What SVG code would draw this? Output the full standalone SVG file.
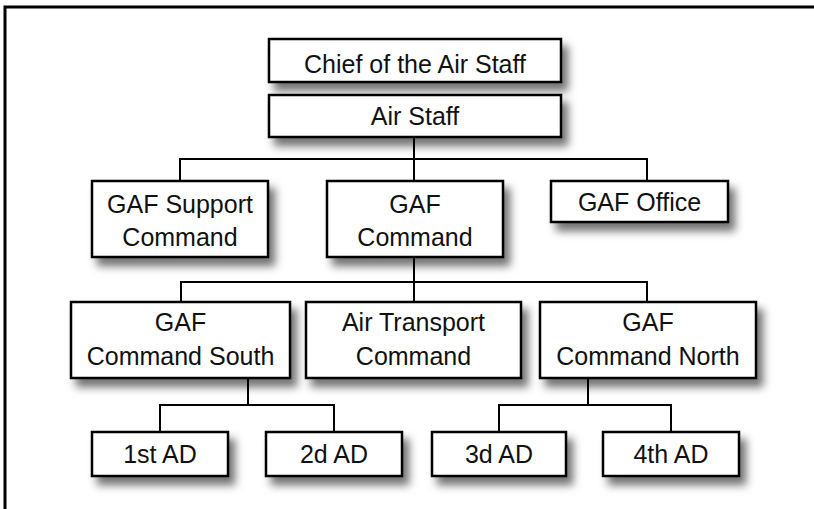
<svg xmlns="http://www.w3.org/2000/svg" width="814" height="509" viewBox="0 0 814 509">
<defs>
<filter id="sh" x="-20%" y="-30%" width="150%" height="180%">
<feDropShadow dx="6" dy="8" stdDeviation="4" flood-color="#000" flood-opacity="0.55"/>
</filter>
</defs>
<style>
.box{fill:#fff;stroke:#000;stroke-width:2.5;filter:url(#sh)}
.t{font-family:"Liberation Sans",Arial,sans-serif;font-size:25px;fill:#111;text-anchor:middle}
.c{fill:none;stroke:#000;stroke-width:2}
</style>
<rect x="5" y="7" width="830" height="530" fill="#fff" stroke="#000" stroke-width="3"/>
<g id="connectors">
<path class="c" d="M414 137V159M180 181V159H647V181M414 159V181"/>
<path class="c" d="M414 257V282M181 302V282H647V302M414 282V302"/>
<path class="c" d="M248 378V405M160 432V405H334V432"/>
<path class="c" d="M588 378V405M499 432V405H671V432"/>
</g>
<g id="chief"><rect class="box" x="269" y="39" width="292" height="43"/><text class="t" x="415" y="73">Chief of the Air Staff</text></g>
<g id="airstaff"><rect class="box" x="269" y="95" width="292" height="42"/><text class="t" x="415" y="125">Air Staff</text></g>
<g id="support"><rect class="box" x="92" y="181" width="176" height="76"/><text class="t" x="180" y="213">GAF Support</text><text class="t" x="180" y="246">Command</text></g>
<g id="gafcommand"><rect class="box" x="327" y="181" width="176" height="76"/><text class="t" x="415" y="213">GAF</text><text class="t" x="415" y="246">Command</text></g>
<g id="office"><rect class="box" x="551" y="181" width="177" height="41"/><text class="t" x="639.5" y="211">GAF Office</text></g>
<g id="south"><rect class="box" x="71" y="302" width="219" height="76"/><text class="t" x="180.5" y="331">GAF</text><text class="t" x="180.5" y="365">Command South</text></g>
<g id="transport"><rect class="box" x="306" y="302" width="215" height="76"/><text class="t" x="413.5" y="331">Air Transport</text><text class="t" x="413.5" y="365">Command</text></g>
<g id="north"><rect class="box" x="540" y="302" width="216" height="76"/><text class="t" x="648" y="331">GAF</text><text class="t" x="648" y="365">Command North</text></g>
<g id="ad1"><rect class="box" x="92" y="432" width="136" height="44"/><text class="t" x="160" y="463">1st AD</text></g>
<g id="ad2"><rect class="box" x="266" y="432" width="136" height="44"/><text class="t" x="334" y="463">2d AD</text></g>
<g id="ad3"><rect class="box" x="432" y="432" width="134" height="44"/><text class="t" x="499" y="463">3d AD</text></g>
<g id="ad4"><rect class="box" x="603" y="432" width="136" height="44"/><text class="t" x="671" y="463">4th AD</text></g>
</svg>
